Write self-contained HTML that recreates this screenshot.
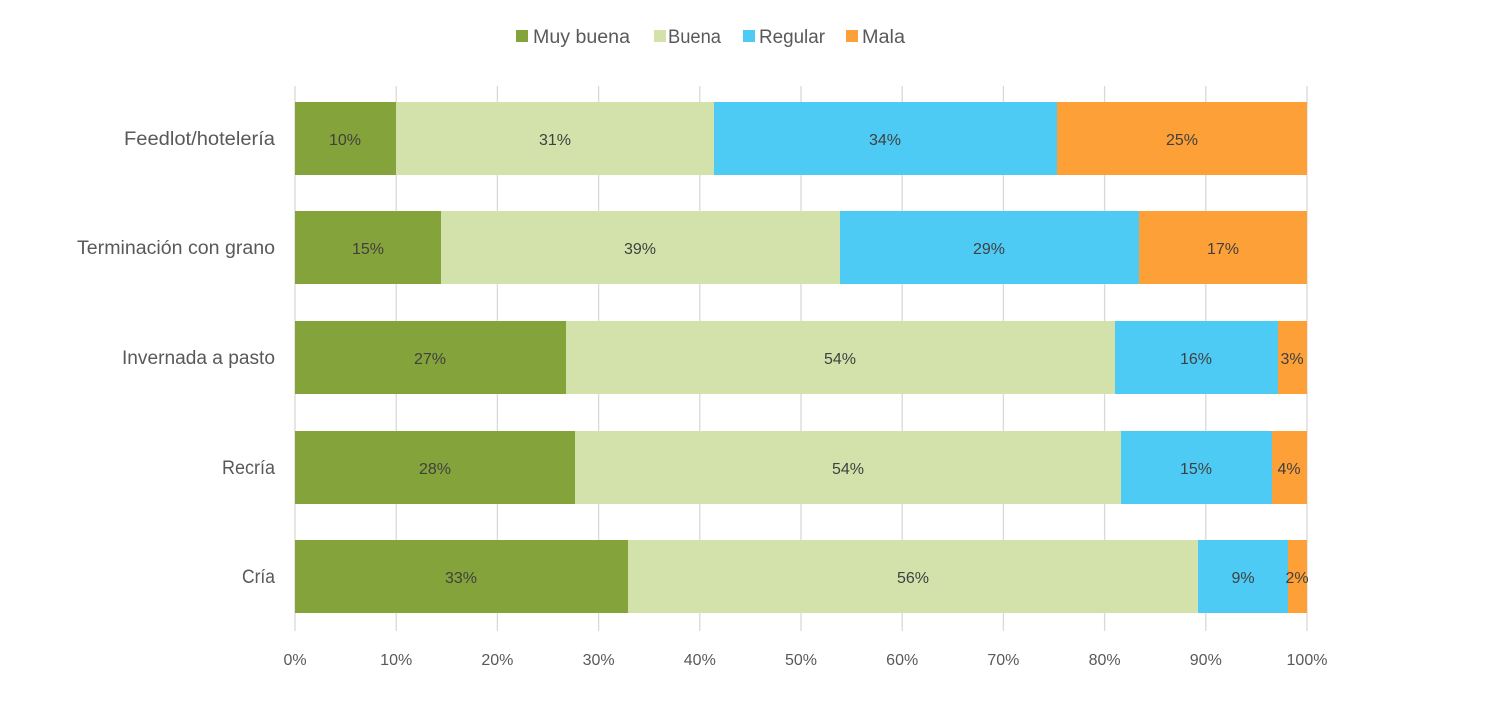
<!DOCTYPE html>
<html><head><meta charset="utf-8"><style>body{margin:0;background:#fff}svg{display:block}text{font-family:"Liberation Sans",sans-serif}</style></head><body>
<svg width="1505" height="712" xmlns="http://www.w3.org/2000/svg">
<rect width="1505" height="712" fill="#fff"/>
<g stroke="#d9d9d9" stroke-width="1.3">
<line x1="295" y1="86" x2="295" y2="631"/><line x1="396.2" y1="86" x2="396.2" y2="631"/><line x1="497.4" y1="86" x2="497.4" y2="631"/><line x1="598.6" y1="86" x2="598.6" y2="631"/><line x1="699.8" y1="86" x2="699.8" y2="631"/><line x1="801" y1="86" x2="801" y2="631"/><line x1="902.2" y1="86" x2="902.2" y2="631"/><line x1="1003.4" y1="86" x2="1003.4" y2="631"/><line x1="1104.6" y1="86" x2="1104.6" y2="631"/><line x1="1205.8" y1="86" x2="1205.8" y2="631"/><line x1="1307" y1="86" x2="1307" y2="631"/>
</g>
<g>
<rect x="295" y="102" width="101" height="73" fill="#84a33a"/><rect x="396" y="102" width="318" height="73" fill="#d3e2aa"/><rect x="714" y="102" width="343" height="73" fill="#4dcbf5"/><rect x="1057" y="102" width="250" height="73" fill="#fda037"/>
<rect x="295" y="211" width="146" height="73" fill="#84a33a"/><rect x="441" y="211" width="399" height="73" fill="#d3e2aa"/><rect x="840" y="211" width="299" height="73" fill="#4dcbf5"/><rect x="1139" y="211" width="168" height="73" fill="#fda037"/>
<rect x="295" y="321" width="271" height="73" fill="#84a33a"/><rect x="566" y="321" width="549" height="73" fill="#d3e2aa"/><rect x="1115" y="321" width="163" height="73" fill="#4dcbf5"/><rect x="1278" y="321" width="29" height="73" fill="#fda037"/>
<rect x="295" y="431" width="280" height="73" fill="#84a33a"/><rect x="575" y="431" width="546" height="73" fill="#d3e2aa"/><rect x="1121" y="431" width="151" height="73" fill="#4dcbf5"/><rect x="1272" y="431" width="35" height="73" fill="#fda037"/>
<rect x="295" y="540" width="333" height="73" fill="#84a33a"/><rect x="628" y="540" width="570" height="73" fill="#d3e2aa"/><rect x="1198" y="540" width="90" height="73" fill="#4dcbf5"/><rect x="1288" y="540" width="19" height="73" fill="#fda037"/>
</g>
<g font-size="16" fill="#404040" text-anchor="middle">
<text x="345" y="145">10%</text><text x="555" y="145">31%</text><text x="885" y="145">34%</text><text x="1182" y="145">25%</text>
<text x="368" y="254">15%</text><text x="640" y="254">39%</text><text x="989" y="254">29%</text><text x="1223" y="254">17%</text>
<text x="430" y="364">27%</text><text x="840" y="364">54%</text><text x="1196" y="364">16%</text><text x="1292" y="364">3%</text>
<text x="435" y="474">28%</text><text x="848" y="474">54%</text><text x="1196" y="474">15%</text><text x="1289" y="474">4%</text>
<text x="461" y="583">33%</text><text x="913" y="583">56%</text><text x="1243" y="583">9%</text><text x="1297" y="583">2%</text>
</g>
<g font-size="19" fill="#595959" text-anchor="end">
<text x="275" y="145" textLength="151" lengthAdjust="spacingAndGlyphs">Feedlot/hotelería</text>
<text x="275" y="254" textLength="198" lengthAdjust="spacingAndGlyphs">Terminación con grano</text>
<text x="275" y="364" textLength="153" lengthAdjust="spacingAndGlyphs">Invernada a pasto</text>
<text x="275" y="474" textLength="53" lengthAdjust="spacingAndGlyphs">Recría</text>
<text x="275" y="583" textLength="33" lengthAdjust="spacingAndGlyphs">Cría</text>
</g>
<g font-size="16" fill="#595959" text-anchor="middle">
<text x="295" y="665">0%</text><text x="396.2" y="665">10%</text><text x="497.4" y="665">20%</text><text x="598.6" y="665">30%</text><text x="699.8" y="665">40%</text><text x="801" y="665">50%</text><text x="902.2" y="665">60%</text><text x="1003.4" y="665">70%</text><text x="1104.6" y="665">80%</text><text x="1205.8" y="665">90%</text><text x="1307" y="665">100%</text>
</g>
<g font-size="19" fill="#595959">
<rect x="516" y="30" width="12" height="12" fill="#84a33a"/><text x="533" y="43" textLength="97" lengthAdjust="spacingAndGlyphs">Muy buena</text>
<rect x="654" y="30" width="12" height="12" fill="#d3e2aa"/><text x="668" y="43" textLength="53" lengthAdjust="spacingAndGlyphs">Buena</text>
<rect x="743" y="30" width="12" height="12" fill="#4dcbf5"/><text x="759" y="43" textLength="66" lengthAdjust="spacingAndGlyphs">Regular</text>
<rect x="846" y="30" width="12" height="12" fill="#fda037"/><text x="862" y="43" textLength="43" lengthAdjust="spacingAndGlyphs">Mala</text>
</g>
</svg>
</body></html>
